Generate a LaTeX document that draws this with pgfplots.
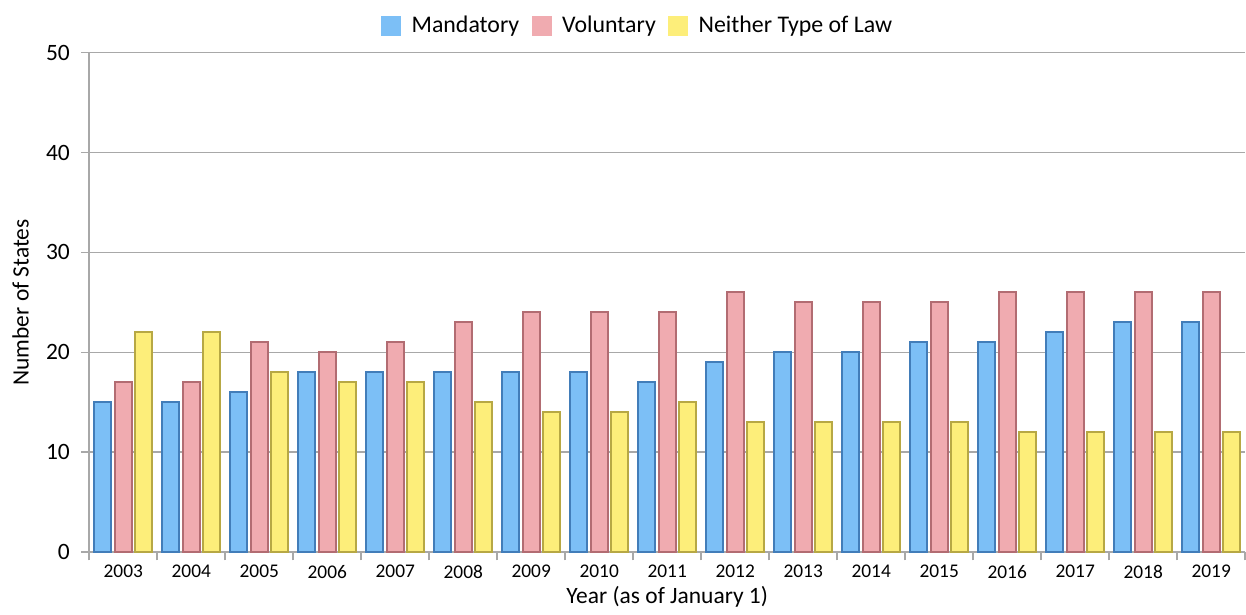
\documentclass[border=0pt]{standalone}
\usepackage{fontspec}
\setmainfont{Carlito}
\usepackage{pgfplots}
\pgfplotsset{compat=1.18}
\definecolor{mandfill}{RGB}{124,191,246}
\definecolor{mandline}{RGB}{66,125,185}
\definecolor{volfill}{RGB}{240,171,176}
\definecolor{volline}{RGB}{178,108,114}
\definecolor{neifill}{RGB}{253,238,122}
\definecolor{neiline}{RGB}{183,168,68}
\definecolor{gridgray}{RGB}{168,168,168}

\begin{document}
\begin{tikzpicture}
\begin{axis}[
    width=567pt, height=245pt, scale only axis,
    xmin=-0.5, xmax=16.5, ymin=0, ymax=50,
    ytick={0,10,...,50},
    xtick={0,...,16},
    xticklabels={2003,2004,2005,2006,2007,2008,2009,2010,2011,2012,2013,2014,2015,2016,2017,2018,2019},
    minor xtick={-0.5,0.5,...,16.5},
    axis x line*=bottom, axis y line*=left,
    axis line style={gridgray, line width=0.8pt, -},
    ymajorgrids, grid style={gridgray, line width=0.8pt},
    tick align=outside,
    major x tick style={draw=none},
    minor x tick style={gridgray, line width=0.8pt},
    minor tick length=4pt,
    y tick style={gridgray, line width=0.8pt},
    major tick length=4pt,
    /pgf/number format/assume math mode=true,
    /pgf/number format/1000 sep={},
    yticklabel style={font=\fontsize{11.5}{13}\selectfont, xshift=-2pt},
    xticklabel style={font=\fontsize{9.5}{11}\selectfont, yshift=1pt},
    xlabel={Year (as of January 1)},
    ylabel={Number of States},
    label style={font=\fontsize{11.5}{13}\selectfont},
    xlabel style={yshift=3pt},
    ylabel style={yshift=-1pt, inner ysep=6pt},
    bar width=0.25,
    legend columns=3,
    legend style={at={(0.5,1)}, anchor=south, xshift=-14pt, draw=none, fill=none, inner ysep=6pt,
        font=\fontsize{11.7}{13}\selectfont,
        /tikz/every even column/.append style={column sep=4pt}},
    legend image code/.code={\draw[#1, draw=none] (0pt,-5pt) rectangle (10pt,5pt);
        \path[draw=none, fill=none] (0pt,0pt) -- (13pt,0pt);},
]
\addplot[ybar, bar shift=-0.3, fill=mandfill, draw=mandline, line width=0.9pt]
    coordinates {(0,15) (1,15) (2,16) (3,18) (4,18) (5,18) (6,18) (7,18) (8,17) (9,19) (10,20) (11,20) (12,21) (13,21) (14,22) (15,23) (16,23)};
\addplot[ybar, bar shift=0, fill=volfill, draw=volline, line width=0.9pt]
    coordinates {(0,17) (1,17) (2,21) (3,20) (4,21) (5,23) (6,24) (7,24) (8,24) (9,26) (10,25) (11,25) (12,25) (13,26) (14,26) (15,26) (16,26)};
\addplot[ybar, bar shift=0.3, fill=neifill, draw=neiline, line width=0.9pt]
    coordinates {(0,22) (1,22) (2,18) (3,17) (4,17) (5,15) (6,14) (7,14) (8,15) (9,13) (10,13) (11,13) (12,13) (13,12) (14,12) (15,12) (16,12)};
\legend{Mandatory, Voluntary, Neither Type of Law}
\end{axis}
\end{tikzpicture}
\end{document}
